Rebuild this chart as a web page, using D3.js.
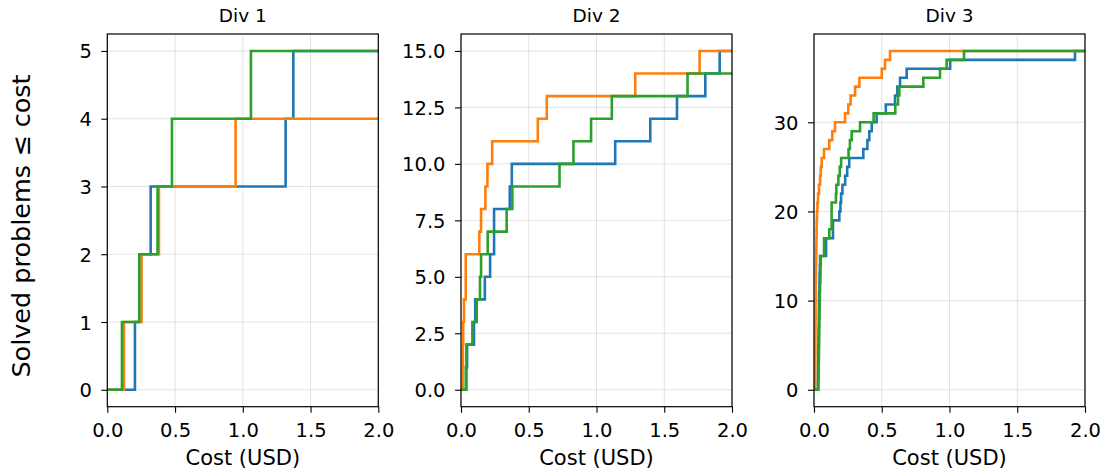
<!DOCTYPE html>
<html>
<head>
<meta charset="utf-8">
<script src="https://cdn.jsdelivr.net/npm/d3@7"></script>
<style>
  html, body { margin: 0; padding: 0; background: #fff; }
  svg { display: block; font-family: "DejaVu Sans", sans-serif; }
</style>
</head>
<body>
<svg id="chart" width="1107" height="475"></svg>
<script>
// ---- data: cost (USD) at which the k-th problem gets solved ----
const panelTitles = ["Div 1", "Div 2", "Div 3"];
const seriesColors = ["#1f77b4", "#ff7f0e", "#2ca02c"];
const xTickValues = [0, 0.5, 1.0, 1.5, 2.0];
const div1YTicks = [0, 1, 2, 3, 4, 5];
const div2YTicks = [0, 2.5, 5, 7.5, 10, 12.5, 15];
const div3YTicks = [0, 10, 20, 30];
const div1Max = 5, div2Max = 15, div3Max = 38;

const div1Blue   = [0.204, 0.236, 0.32, 1.316, 1.373];
const div1Orange = [0.123, 0.253, 0.381, 0.947];
const div1Green  = [0.108, 0.236, 0.371, 0.477, 1.06];

const div2Blue   = [0.04, 0.045, 0.096, 0.105, 0.176, 0.215, 0.244, 0.244, 0.36, 0.375, 1.138, 1.397, 1.594, 1.803, 1.909];
const div2Orange = [0.012, 0.014, 0.016, 0.022, 0.035, 0.035, 0.135, 0.148, 0.18, 0.195, 0.23, 0.567, 0.633, 1.286, 1.761];
const div2Green  = [0.035, 0.04, 0.084, 0.116, 0.14, 0.148, 0.197, 0.337, 0.379, 0.727, 0.83, 0.96, 1.113, 1.672];

const div3Blue   = [0.028, 0.029, 0.03, 0.031, 0.032, 0.033, 0.034, 0.035, 0.036, 0.037, 0.038, 0.04, 0.041, 0.043, 0.045,
                    0.089, 0.089, 0.14, 0.14, 0.187, 0.195, 0.2, 0.21, 0.23, 0.245, 0.26, 0.364, 0.394, 0.408, 0.426,
                    0.462, 0.53, 0.598, 0.615, 0.635, 0.684, 1.005, 1.926];
const div3Orange = [0.008, 0.008, 0.009, 0.009, 0.01, 0.01, 0.011, 0.011, 0.012, 0.012, 0.013, 0.013, 0.014, 0.015, 0.016,
                    0.017, 0.018, 0.019, 0.02, 0.022, 0.025, 0.03, 0.037, 0.045, 0.05, 0.057, 0.074, 0.113, 0.135, 0.155,
                    0.229, 0.253, 0.27, 0.303, 0.335, 0.5, 0.524, 0.561];
const div3Green  = [0.033, 0.034, 0.035, 0.036, 0.037, 0.038, 0.039, 0.04, 0.041, 0.042, 0.043, 0.045, 0.047, 0.048, 0.05,
                    0.074, 0.074, 0.113, 0.13, 0.13, 0.13, 0.162, 0.165, 0.18, 0.19, 0.2, 0.255, 0.265, 0.278, 0.34,
                    0.44, 0.6, 0.62, 0.63, 0.807, 0.93, 0.979, 1.107];

const yLabel = "Solved problems \u2264 cost";
const xLabel = "Cost (USD)";

// ---- layout ----
const svg = d3.select("#chart");
svg.append("rect").attr("width", 1107).attr("height", 475).attr("fill", "#fff");

const panelLeft = [107.3, 461, 814];
const panelW = 271;
const plotTop = 34, plotBottom = 406.7;
const tickFont = 19.5;

const panels = [
  { title: panelTitles[0], series: [div1Blue, div1Orange, div1Green], yTicks: div1YTicks, ymax: div1Max, fmt: d3.format("d") },
  { title: panelTitles[1], series: [div2Blue, div2Orange, div2Green], yTicks: div2YTicks, ymax: div2Max, fmt: d3.format(".1f") },
  { title: panelTitles[2], series: [div3Blue, div3Orange, div3Green], yTicks: div3YTicks, ymax: div3Max, fmt: d3.format("d") }
];

panels.forEach((p, i) => {
  const x0 = panelLeft[i];
  const pad = p.ymax * 0.05;
  const x = d3.scaleLinear().domain([0, 2]).range([x0, x0 + panelW]);
  const y = d3.scaleLinear().domain([-pad, p.ymax + pad]).range([plotBottom, plotTop]);
  const g = svg.append("g");

  // grid
  g.selectAll(".gx").data(xTickValues).join("line")
    .attr("x1", d => x(d)).attr("x2", d => x(d)).attr("y1", plotTop).attr("y2", plotBottom)
    .attr("stroke", "#b0b0b0").attr("stroke-opacity", 0.35).attr("stroke-width", 1);
  g.selectAll(".gy").data(p.yTicks).join("line")
    .attr("x1", x0).attr("x2", x0 + panelW).attr("y1", d => y(d)).attr("y2", d => y(d))
    .attr("stroke", "#b0b0b0").attr("stroke-opacity", 0.35).attr("stroke-width", 1);

  // clip
  const cid = "clip" + i;
  svg.append("clipPath").attr("id", cid).append("rect")
    .attr("x", x0).attr("y", plotTop).attr("width", panelW).attr("height", plotBottom - plotTop);

  const line = d3.line().x(d => x(d[0])).y(d => y(d[1])).curve(d3.curveStepAfter);
  p.series.forEach((costs, si) => {
    const pts = [[0, 0]].concat(costs.map((c, k) => [c, k + 1]));
    pts.push([2.2, costs.length]);
    g.append("path").datum(pts)
      .attr("clip-path", `url(#${cid})`)
      .attr("d", line)
      .attr("fill", "none")
      .attr("stroke", seriesColors[si])
      .attr("stroke-width", 2.6)
      .attr("stroke-linejoin", "miter")
      .attr("stroke-linecap", "square");
  });

  // axes
  const xAxis = d3.axisBottom(x).tickValues(xTickValues).tickFormat(d3.format(".1f")).tickSizeOuter(0).tickSize(6).tickPadding(5);
  const gx = g.append("g").attr("transform", `translate(0,${plotBottom})`).call(xAxis);
  const yAxis = d3.axisLeft(y).tickValues(p.yTicks).tickFormat(p.fmt).tickSizeOuter(0).tickSize(6).tickPadding(5);
  const gy = g.append("g").attr("transform", `translate(${x0},0)`).call(yAxis);
  [gx, gy].forEach(a => {
    a.select(".domain").remove();
    a.selectAll(".tick line").attr("stroke", "#000").attr("stroke-width", 1.1);
    a.selectAll(".tick text").attr("fill", "#000").attr("font-size", tickFont).attr("font-family", "DejaVu Sans");
  });
  gx.selectAll(".tick text").attr("dy", null).attr("y", 30.3);
  gy.selectAll(".tick text").attr("dy", null).attr("x", -15.5).attr("y", tickFont * 0.36);

  // frame
  g.append("rect").attr("x", x0).attr("y", plotTop).attr("width", panelW).attr("height", plotBottom - plotTop)
    .attr("fill", "none").attr("stroke", "#000").attr("stroke-width", 1.2);

  // title
  g.append("text").attr("x", x0 + panelW / 2).attr("y", 22).attr("text-anchor", "middle")
    .attr("font-size", 18.5).attr("fill", "#000").text(p.title);
  // x label
  g.append("text").attr("x", x0 + panelW / 2).attr("y", 465).attr("text-anchor", "middle")
    .attr("font-size", 21).attr("fill", "#000").text(xLabel);
});

svg.append("text").attr("transform", "translate(30,226) rotate(-90)")
  .attr("text-anchor", "middle").attr("font-size", 25.5).attr("fill", "#000").text(yLabel);
</script>
</body>
</html>
